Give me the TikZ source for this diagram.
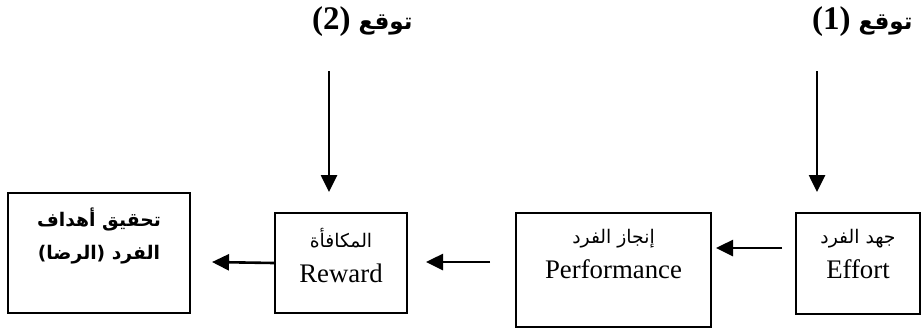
\documentclass[tikz,border=0pt]{standalone}
\usepackage{fontspec}
\setmainfont{Liberation Serif}
\newfontfamily\arabicfont[Script=Arabic,Scale=0.7]{DejaVu Sans}
\TeXXeTstate=1
\usetikzlibrary{arrows.meta,positioning}
\newcommand{\arabictext}[1]{{\arabicfont\beginR #1\endR}}
\tikzset{boxnode/.style={shape=rectangle, draw, line width=1pt, inner sep=0pt},
  textnode/.style={align=center, inner sep=0pt, font=\fontsize{13.4}{17.5}\selectfont},
  titlenode/.style={inner sep=0pt, anchor=east, font=\fontsize{16.5}{18}\selectfont\bfseries},
  arrowline/.style={line width=1.3pt, -{Triangle[width=8pt,length=8.5pt]}}}

\begin{document}
\begin{tikzpicture}[x=0.5pt,y=-0.5pt]
\useasboundingbox (0,0) rectangle (921,329);
\node[boxnode, minimum width=91pt, minimum height=60pt] (goals) at (99,253) {};
\node[boxnode, minimum width=66pt, minimum height=50pt] (reward) at (341,263) {};
\node[boxnode, minimum width=97.5pt, minimum height=57pt] (performance) at (613.5,270) {};
\node[boxnode, minimum width=62pt, minimum height=50.5pt] (effort) at (858,263.5) {};
\node[textnode, font=\fontsize{13.4}{16.5}\selectfont\bfseries, below=7.5pt of goals.north] (goals-text)
  {\arabictext{تحقيق أهداف}\\ \arabictext{الفرد (الرضا)}};
\node[textnode, below=8pt of reward.north] (reward-text) {\arabictext{المكافأة}\\ Reward};
\node[textnode, below=8.5pt of performance.north] (performance-text) {\arabictext{إنجاز الفرد}\\ Performance};
\node[textnode, below=8.5pt of effort.north] (effort-text) {\arabictext{جهد الفرد}\\ Effort};
\node[titlenode] (expect2) at (413,22) {\arabictext{توقع \beginL{\rmfamily(2)}\endL}};
\node[titlenode] (expect1) at (913,22) {\arabictext{توقع \beginL{\rmfamily(1)}\endL}};
\coordinate (goals-tip) at (212,262);
\coordinate (perf-start) at (490,262);
\coordinate (reward-tip) at (426,262);
\coordinate (effort-start) at (782,248);
\coordinate (perf-tip) at (716,248);
\coordinate (expect2-start) at (329,71);
\coordinate (reward-top) at (329,192);
\coordinate (expect1-start) at (817,71);
\coordinate (effort-top) at (817,192);
\draw[arrowline] (reward.west) -- (goals-tip);
\draw[arrowline] (perf-start) -- (reward-tip);
\draw[arrowline] (effort-start) -- (perf-tip);
\draw[arrowline] (expect2-start) -- (reward-top);
\draw[arrowline] (expect1-start) -- (effort-top);
\end{tikzpicture}
\end{document}
